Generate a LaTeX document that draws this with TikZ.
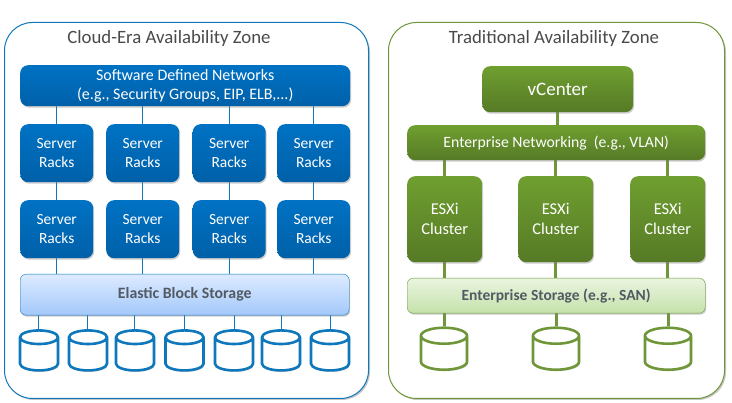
\documentclass[tikz,border=0pt]{standalone}
\usepackage{fontspec}
\setmainfont{Carlito}
\usetikzlibrary{shapes.geometric, positioning, shadows}
\definecolor{cloudblue}{HTML}{0072C4}
\definecolor{cloudlow}{HTML}{0060A8}
\definecolor{cloudline}{HTML}{0F78BC}
\definecolor{tradgreen}{HTML}{6F9F30}
\definecolor{tradlow}{HTML}{567A26}
\definecolor{tradline}{HTML}{6F9638}
\definecolor{titlegray}{HTML}{4A4A4A}
\definecolor{storegray}{HTML}{525A64}
\definecolor{blue_store_top}{HTML}{DDEBFF}
\definecolor{blue_store_low}{HTML}{A3C8FB}
\definecolor{green_store_top}{HTML}{EAF4E0}
\definecolor{green_store_low}{HTML}{C4E2AA}
\pgfdeclarelayer{zones}
\pgfdeclarelayer{links}
\pgfsetlayers{zones,links,main}

\begin{document}
\begin{tikzpicture}[
    x=1pt, y=-1pt,
    % zones
    zone_frame/.style={
        draw, fill=white, rounded corners=28pt, line width=1pt, drop shadow={shadow xshift=1.5pt, shadow yshift=-1.5pt, opacity=0.45}, anchor=north west
    },
    zone_title/.style={
        font=\fontsize{18.8}{20}\selectfont, text=titlegray, inner sep=0pt
    },
    % solid blocks
    blue_block/.style={
        draw=none, top color=cloudblue, bottom color=cloudlow, rounded corners=8pt, align=center, text=white,
        drop shadow={shadow xshift=1pt, shadow yshift=-1.5pt, opacity=0.4}, inner sep=0pt, anchor=north west,
        font=\fontsize{15.5}{19}\selectfont
    },
    green_block/.style={
        draw=none, top color=tradgreen, bottom color=tradlow, rounded corners=8pt, align=center, text=white,
        drop shadow={shadow xshift=1pt, shadow yshift=-1.5pt, opacity=0.4}, inner sep=0pt, anchor=north west,
        font=\fontsize{16.5}{20}\selectfont
    },
    % storage bars
    blue_store/.style={
        draw=cloudline, top color=blue_store_top, bottom color=blue_store_low, rounded corners=6pt, text=storegray,
        drop shadow={shadow xshift=1pt, shadow yshift=-1.5pt, opacity=0.4}, inner sep=0pt, anchor=north west,
        font=\fontsize{15.8}{16}\selectfont
    },
    green_store/.style={
        draw=tradline, top color=green_store_top, bottom color=green_store_low, rounded corners=6pt, text=storegray,
        drop shadow={shadow xshift=1pt, shadow yshift=-1.5pt, opacity=0.4}, inner sep=0pt, anchor=north west,
        font=\fontsize{15.5}{16}\selectfont
    },
    disk/.style={
        cylinder, shape border rotate=90, fill=white, inner sep=2pt, line width=2.6pt,
        drop shadow={shadow xshift=1pt, shadow yshift=-1.5pt, opacity=0.35}
    },
    blue_disk/.style={disk, draw=cloudline, minimum width=38pt, minimum height=40pt, shape aspect=3.4},
    green_disk/.style={disk, draw=tradline, minimum width=46pt, minimum height=42pt, shape aspect=4},
    blue_link/.style={draw=cloudline, line width=1pt},
    green_link/.style={draw=tradline, line width=3pt}
]
    \useasboundingbox (0,0) rectangle (732,403);

    % --- LEFT ZONE ---
    \begin{pgfonlayer}{zones}
    \node[zone_frame, draw=cloudline, minimum width=364pt, minimum height=376pt] (cloud_zone) at (4,22) {};
    \end{pgfonlayer}
    \node[zone_title] (cloud_title) at (169,38) {Cloud-Era Availability Zone};

    \node[blue_block, minimum width=330pt, minimum height=41pt, font=\fontsize{16}{18.5}\selectfont] (sdn) at (20,65) {Software Defined Networks\\(e.g., Security Groups, EIP, ELB,...)};

    \foreach \name/\xpos in {a/20, b/106, c/192.5, d/277} {
        \node[blue_block, minimum width=73pt, minimum height=58pt] (rack_top_\name) at (\xpos,124) {Server\\Racks};
        \node[blue_block, minimum width=73pt, minimum height=58pt] (rack_low_\name) at (\xpos,200) {Server\\Racks};
    }

    \node[blue_store, minimum width=329pt, minimum height=41pt] (ebs) at (20,274) {\textbf{Elastic Block Storage}};

    \foreach \name/\xpos in {a/39, b/88, c/135, d/184.5, e/234, f/281, g/330} {
        \node[blue_disk] (ebs_disk_\name) at (\xpos,356) {};
        \begin{pgfonlayer}{links}
        \draw[blue_link] (ebs_disk_\name.north |- ebs.south) -- (ebs_disk_\name.north);
        \end{pgfonlayer}
    }

    \begin{pgfonlayer}{links}
    \foreach \name in {a,b,c,d} {
        \draw[blue_link] (rack_top_\name.north |- sdn.south) -- (rack_top_\name.north);
        \draw[blue_link] (rack_top_\name) -- (rack_low_\name);
        \draw[blue_link] (rack_low_\name.south) -- (rack_low_\name.south |- ebs.north);
    }
    \end{pgfonlayer}

    % --- RIGHT ZONE ---
    \begin{pgfonlayer}{zones}
    \node[zone_frame, draw=tradline, minimum width=336pt, minimum height=376pt] (trad_zone) at (388,22) {};
    \end{pgfonlayer}
    \node[zone_title] (trad_title) at (554,38) {Traditional Availability Zone};

    \node[green_block, minimum width=151pt, minimum height=46pt, font=\fontsize{19}{20}\selectfont] (vcenter) at (482,66) {vCenter};
    \node[green_block, minimum width=298pt, minimum height=35pt, font=\fontsize{15.7}{20}\selectfont] (ent_net) at (407,125) {Enterprise Networking~ (e.g., VLAN)};

    \foreach \name/\xpos in {a/407, b/518, c/630} {
        \node[green_block, minimum width=75pt, minimum height=86pt] (esxi_\name) at (\xpos,176) {ESXi\\Cluster};
    }

    \node[green_store, minimum width=298pt, minimum height=35pt] (ent_store) at (407,278) {\textbf{Enterprise Storage (e.g., SAN)}};

    \foreach \name/\xpos in {a/444, b/556, c/668} {
        \node[green_disk] (san_disk_\name) at (\xpos,355) {};
        \begin{pgfonlayer}{links}
        \draw[green_link] (san_disk_\name.north |- ent_store.south) -- (san_disk_\name.north);
        \end{pgfonlayer}
    }

    \begin{pgfonlayer}{links}
    \draw[green_link] (vcenter) -- (vcenter |- ent_net.north);
    \foreach \name in {a,b,c} {
        \draw[green_link] (esxi_\name.north |- ent_net.south) -- (esxi_\name.north);
        \draw[green_link] (esxi_\name.south) -- (esxi_\name.south |- ent_store.north);
    }
    \end{pgfonlayer}
\end{tikzpicture}
\end{document}
